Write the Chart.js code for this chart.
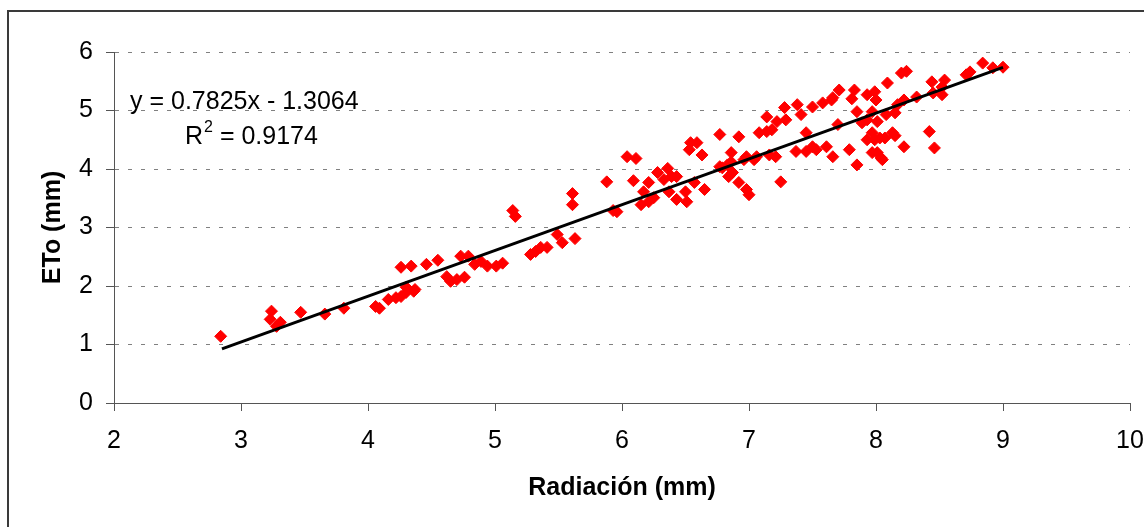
<!DOCTYPE html>
<html>
<head>
<meta charset="utf-8">
<script src="https://cdn.jsdelivr.net/npm/chart.js@4.4.0/dist/chart.umd.min.js"></script>
<style>
html,body{margin:0;padding:0;background:#fff;}
#wrap{width:1144px;height:527px;position:relative;}
</style>
</head>
<body>
<div id="wrap"><canvas id="c" width="1144" height="527"></canvas></div>
<script>
// ---- data ----
const radiacion = [
  2.84,3.24,3.23,3.31,3.28,3.47,3.66,3.81,4.06,4.09,4.16,4.22,4.26,4.30,4.36,4.37,4.30,
  4.26,4.34,4.46,4.55,4.62,4.65,4.70,4.76,4.73,4.79,4.84,4.89,4.94,5.01,5.06,5.14,5.16,
  5.28,5.32,5.36,5.41,5.49,5.53,5.63,5.61,5.61,5.88,5.93,5.96,6.04,6.11,6.09,6.15,6.17,
  6.21,6.28,6.36,6.33,6.39,6.43,6.25,6.21,6.37,6.43,6.51,6.50,6.57,6.54,6.59,6.63,6.53,
  6.65,6.77,6.92,6.86,6.79,6.83,6.87,6.92,6.98,7.00,6.96,7.04,7.08,7.14,7.14,7.18,7.22,
  7.28,7.29,7.38,7.41,7.50,7.58,7.66,7.71,7.83,7.93,7.99,8.09,7.81,7.85,7.93,7.97,8.08,
  7.70,7.45,7.50,7.37,7.45,7.53,7.61,7.66,7.79,7.85,7.93,7.97,8.03,8.13,7.97,8.04,7.21,
  7.16,7.25,7.06,6.98,6.86,6.77,6.84,8.20,8.24,7.65,8.00,7.89,8.01,8.15,8.22,8.17,8.32,
  8.44,8.45,8.52,8.54,8.52,8.71,8.74,8.84,8.92,9.00,8.42,8.46,8.15,8.22,8.07,7.99,8.01,8.05
];
const eto = [
  1.14,1.57,1.43,1.38,1.31,1.55,1.52,1.62,1.65,1.62,1.77,1.80,1.82,1.89,1.91,1.94,1.98,
  2.32,2.34,2.37,2.44,2.16,2.08,2.11,2.15,2.51,2.51,2.37,2.42,2.34,2.34,2.39,3.29,3.19,
  2.54,2.59,2.66,2.66,2.88,2.74,2.81,3.58,3.39,3.78,3.29,3.27,4.21,4.18,3.80,3.39,3.61,
  3.77,3.94,4.01,3.82,3.87,3.87,3.51,3.44,3.61,3.48,3.44,3.61,3.77,4.45,4.45,4.24,4.33,
  3.65,4.59,4.55,4.28,4.02,4.07,3.94,3.77,3.65,3.56,4.16,4.16,4.62,4.64,4.89,4.67,4.81,
  5.05,4.84,5.10,4.93,5.06,5.13,5.22,5.35,5.35,5.27,5.32,5.47,5.20,4.98,4.84,4.98,4.93,
  4.76,4.62,4.38,4.30,4.30,4.33,4.38,4.21,4.33,4.07,4.50,4.62,4.53,4.62,4.28,4.19,4.21,
  4.24,3.78,4.21,4.21,4.12,4.04,3.87,5.64,5.67,5.18,5.18,4.79,4.81,4.96,5.18,5.10,5.23,
  5.49,5.30,5.40,5.52,5.27,5.61,5.66,5.81,5.73,5.74,4.64,4.36,4.57,4.38,4.53,4.50,4.28,4.16
];
const xTicks = [2,3,4,5,6,7,8,9,10];
const yTicks = [0,1,2,3,4,5,6];
const slope = 0.7825;
const intercept = -1.3064;
const rSquared = 0.9174;
const trendRange = [2.85, 9.0];
const xTitle = 'Radiación (mm)';
const yTitle = 'ETo (mm)';

// ---- build ----
const FONT = '"Liberation Sans", Arial, sans-serif';
const points = radiacion.map((x, i) => ({x: x, y: eto[i]}));
const trend = trendRange.map(x => ({x: x, y: slope * x + intercept}));

const framePlugin = {
  id: 'frame',
  beforeDraw(chart) {
    const ctx = chart.ctx;
    ctx.save();
    ctx.fillStyle = '#fff';
    ctx.fillRect(0, 0, chart.width, chart.height);
    ctx.strokeStyle = '#3a3a3a';
    ctx.lineWidth = 2;
    ctx.beginPath();
    ctx.moveTo(8, chart.height + 2);
    ctx.lineTo(8, 11);
    ctx.lineTo(chart.width + 2, 11);
    ctx.stroke();
    ctx.restore();
  }
};

const eqPlugin = {
  id: 'equation',
  afterDraw(chart) {
    const ctx = chart.ctx;
    ctx.save();
    ctx.fillStyle = '#000';
    ctx.textBaseline = 'middle';
    ctx.textAlign = 'left';
    ctx.font = '25px ' + FONT;
    const sign = intercept < 0 ? ' - ' : ' + ';
    ctx.fillText('y = ' + slope.toFixed(4) + 'x' + sign + Math.abs(intercept).toFixed(4), 130, 102);
    let x = 185;
    ctx.fillText('R', x, 137);
    x += ctx.measureText('R').width;
    ctx.font = '16px ' + FONT;
    ctx.fillText('2', x + 1, 128);
    x += ctx.measureText('2').width + 1;
    ctx.font = '25px ' + FONT;
    ctx.fillText(' = ' + rSquared.toFixed(4), x, 137);
    ctx.restore();
  }
};

new Chart(document.getElementById('c'), {
  type: 'scatter',
  data: {
    datasets: [
      {
        type: 'line',
        label: 'trend',
        data: trend,
        borderColor: '#000',
        borderWidth: 3,
        pointRadius: 0,
        fill: false,
        order: 0
      },
      {
        label: 'ETo',
        data: points,
        pointStyle: 'rectRot',
        pointRadius: 6,
        backgroundColor: '#ff0000',
        borderColor: '#ff0000',
        borderWidth: 1,
        order: 1
      }
    ]
  },
  options: {
    responsive: false,
    devicePixelRatio: 1,
    animation: false,
    layout: {padding: {top: 52, right: 0, left: 0, bottom: 0}},
    plugins: {legend: {display: false}, tooltip: {enabled: false}},
    scales: {
      x: {
        type: 'linear',
        min: xTicks[0], max: xTicks[xTicks.length - 1],
        afterBuildTicks(s) { s.ticks = xTicks.map(v => ({value: v})); },
        ticks: {color: '#000', padding: 15, maxRotation: 0, font: {family: FONT, size: 25}},
        grid: {drawOnChartArea: false, drawTicks: true, tickLength: 8, tickColor: '#555', tickWidth: 1},
        border: {display: true, color: '#555', width: 1},
        title: {display: true, text: xTitle, color: '#000', font: {family: FONT, size: 25, weight: 'bold'}, padding: {top: 0, bottom: 24}},
        afterFit(s) { s.height = 124; s.paddingRight = 14; s.paddingLeft = 0; }
      },
      y: {
        type: 'linear',
        min: yTicks[0], max: yTicks[yTicks.length - 1],
        afterBuildTicks(s) { s.ticks = yTicks.map(v => ({value: v})); },
        ticks: {color: '#000', padding: 13, font: {family: FONT, size: 25}},
        grid: {drawOnChartArea: true, drawTicks: true, tickLength: 8, color: '#808080', lineWidth: 1, tickColor: '#555', tickWidth: 1, tickBorderDash: []},
        border: {display: true, color: '#555', width: 1, dash: [4, 9]},
        title: {display: true, text: yTitle, color: '#000', font: {family: FONT, size: 25, weight: 'bold'}, padding: {top: 38, bottom: 0}},
        afterFit(s) { s.width = 114; }
      }
    }
  },
  plugins: [framePlugin, eqPlugin]
});
</script>
</body>
</html>
